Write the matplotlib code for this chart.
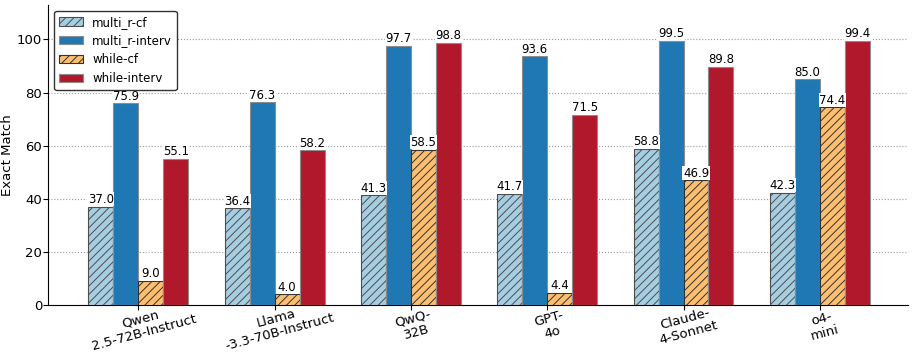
import numpy as np
import matplotlib
matplotlib.use("Agg")
import matplotlib.pyplot as plt

models = ["Qwen\n2.5-72B-Instruct", "Llama\n-3.3-70B-Instruct", "QwQ-\n32B",
          "GPT-\n4o", "Claude-\n4-Sonnet", "o4-\nmini"]
multi_r_cf = [37.0, 36.4, 41.3, 41.7, 58.8, 42.3]
multi_r_interv = [75.9, 76.3, 97.7, 93.6, 99.5, 85.0]
while_cf = [9.0, 4.0, 58.5, 4.4, 46.9, 74.4]
while_interv = [55.1, 58.2, 98.8, 71.5, 89.8, 99.4]

series = [
    ("multi_r-cf", multi_r_cf, "#a6cee3", "////", "0.3"),
    ("multi_r-interv", multi_r_interv, "#1f78b4", None, "0.55"),
    ("while-cf", while_cf, "#fdbf6f", "////", "0.2"),
    ("while-interv", while_interv, "#b2182b", None, "0.55"),
]

plt.rcParams["hatch.linewidth"] = 0.7

fig, ax = plt.subplots(figsize=(9.13, 3.55), dpi=100)
x = np.arange(len(models))
w = 0.183
offsets = [-1.5 * w, -0.5 * w, 0.5 * w, 1.5 * w]
for (name, vals, col, hatch, ec), off in zip(series, offsets):
    bars = ax.bar(x + off, vals, w, color=col, hatch=hatch, edgecolor=ec,
                  linewidth=0.8, label=name, zorder=3)
    for b, v in zip(bars, vals):
        ax.text(b.get_x() + b.get_width() / 2, v + 0.3, f"{v:.1f}",
                ha="center", va="bottom", fontsize=8.5, zorder=4,
                bbox=dict(fc="white", ec="none", pad=0.3))

ax.set_xticks(x)
ax.set_xticklabels(models, rotation=15, ha="center", va="top",
                   rotation_mode="anchor", fontsize=9.5, linespacing=1.1)
ax.set_ylabel("Exact Match", fontsize=9.5, labelpad=2)
ax.set_ylim(0, 113)
ax.set_xlim(-0.66, 5.65)
ax.set_yticks([0, 20, 40, 60, 80, 100])
ax.tick_params(axis="y", labelsize=9.5, pad=1)
ax.tick_params(axis="x", pad=2)
ax.grid(axis="y", ls=":", color="0.6", lw=0.8, zorder=0)
ax.spines["top"].set_visible(False)
ax.spines["right"].set_visible(False)
ax.legend(loc="upper left", fontsize=8.5, framealpha=1, edgecolor="0.2")
fig.subplots_adjust(left=0.053, right=0.995, top=0.986, bottom=0.141)
fig.savefig("out.png")
